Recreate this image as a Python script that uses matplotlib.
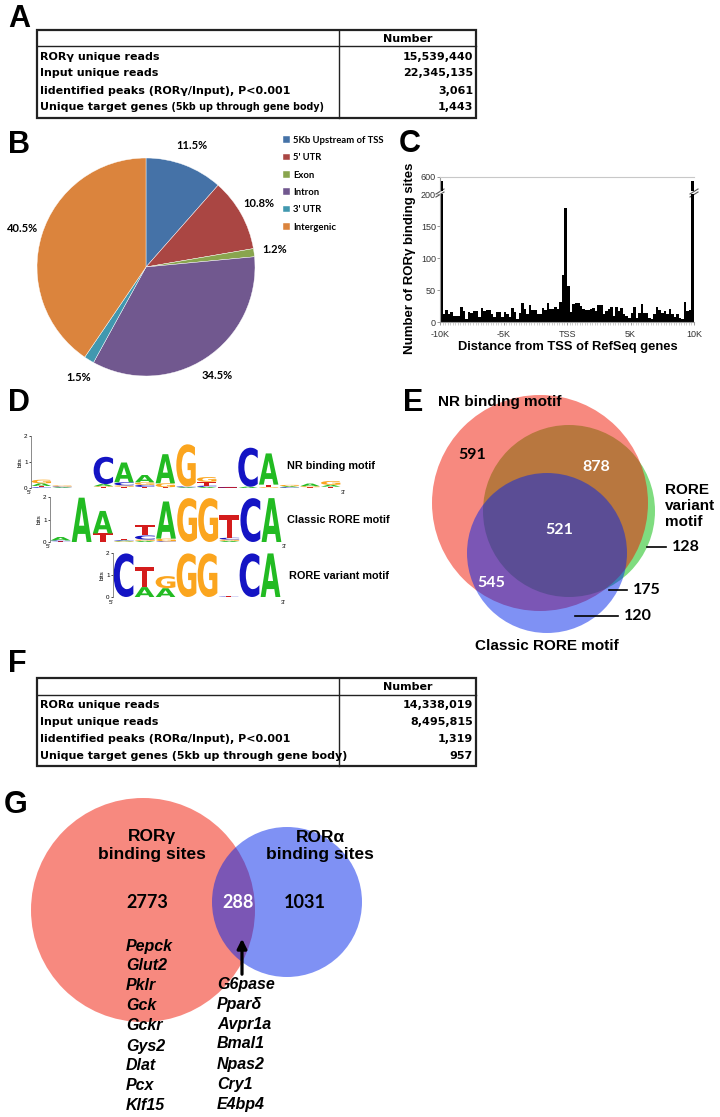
import numpy as np
import matplotlib
matplotlib.use('Agg')
import matplotlib.pyplot as plt
from matplotlib.patches import Circle, Rectangle, PathPatch
from matplotlib.textpath import TextPath
from matplotlib.font_manager import FontProperties
from matplotlib.transforms import Affine2D

plt.rcParams['font.family'] = ['Liberation Sans', 'DejaVu Sans']

W, H = 720, 1117

# ---------------- data ----------------
table_a_labels = ['RORγ unique reads', 'Input unique reads',
                  'Iidentified peaks (RORγ/Input), P<0.001', 'Unique target genes']
table_a_values = ['15,539,440', '22,345,135', '3,061', '1,443']
table_f_labels = ['RORα unique reads', 'Input unique reads',
                  'Iidentified peaks (RORα/Input), P<0.001',
                  'Unique target genes (5kb up through gene body)']
table_f_values = ['14,338,019', '8,495,815', '1,319', '957']

pie_labels = ['5Kb Upstream of TSS', "5' UTR", 'Exon', 'Intron', "3' UTR", 'Intergenic']
pie_values = [11.5, 10.8, 1.2, 34.5, 1.5, 40.5]
pie_colors = ['#4572a7', '#aa4643', '#89a54e', '#71588f', '#4198af', '#db843d']

tss_ticks = [-10000, -5000, 0, 5000, 10000]
tss_ticklabels = ['-10K', '-5K', 'TSS', '5K', '10K']
tss_counts = [575,
              13, 18, 13, 16, 10, 10, 10, 24, 17, 5,
              16, 14, 17, 17, 8, 22, 17, 18, 18, 13,
              8, 16, 16, 8, 16, 13, 8, 22, 16, 5,
              14, 29, 21, 13, 26, 19, 18, 13, 13, 22,
              19, 29, 21, 21, 24, 21, 31, 73,
              178,
              56, 15, 28, 30, 30, 25, 20, 18, 19, 21,
              22, 17, 27, 26, 13, 17, 20, 24, 10, 23,
              17, 22, 13, 10, 6, 14, 24, 6, 14, 28, 14,
              14, 6, 4, 12, 24, 18, 14, 17, 13, 20,
              13, 8, 13, 6, 5, 31, 17, 18,
              575]

# sequence logos: per position, (letter, bits) from bottom to top
nr_motif = [[('C', 0.03), ('T', 0.05), ('A', 0.1), ('G', 0.14)],
            [('A', 0.03), ('C', 0.03), ('G', 0.04)],
            [],
            [('T', 0.04), ('G', 0.03), ('A', 0.08), ('C', 1.05)],
            [('T', 0.05), ('G', 0.05), ('C', 0.12), ('A', 0.76)],
            [('T', 0.04), ('C', 0.08), ('G', 0.1), ('A', 0.28)],
            [('T', 0.03), ('G', 0.15), ('A', 1.12)],
            [('A', 0.03), ('C', 0.03), ('G', 1.62)],
            [('A', 0.04), ('C', 0.05), ('T', 0.15), ('G', 0.18)],
            [('T', 0.02), ('C', 0.02)],
            [('A', 0.05), ('C', 1.5)],
            [('G', 0.03), ('T', 0.1), ('A', 1.2)],
            [('C', 0.03), ('A', 0.04), ('G', 0.05)],
            [('T', 0.03), ('G', 0.04), ('A', 0.1)],
            [('T', 0.05), ('A', 0.07), ('G', 0.15)]]
classic_motif = [[('T', 0.03), ('C', 0.04), ('A', 0.15)],
                 [('A', 1.97)],
                 [('T', 0.38), ('A', 1.0)],
                 [('G', 0.03), ('A', 0.03), ('C', 0.03), ('T', 0.05)],
                 [('A', 0.05), ('G', 0.06), ('C', 0.18), ('T', 0.45)],
                 [('C', 0.03), ('G', 0.12), ('A', 1.65)],
                 [('G', 1.95)],
                 [('G', 1.95)],
                 [('A', 0.05), ('G', 0.06), ('C', 0.08), ('T', 1.0)],
                 [('C', 1.95)],
                 [('A', 1.95)]]
variant_motif = [[('C', 1.98)],
                 [('A', 0.45), ('T', 0.9)],
                 [('A', 0.4), ('G', 0.55)],
                 [('G', 1.98)],
                 [('G', 1.98)],
                 [('C', 0.02), ('T', 0.04)],
                 [('C', 1.98)],
                 [('A', 1.98)]]
motif_names = ['NR binding motif', 'Classic RORE motif', 'RORE variant motif']
logo_colors = {'A': '#22bb22', 'C': '#1414c4', 'G': '#fba51e', 'T': '#d41c1c'}

venn_e_sets = ['NR binding motif', 'RORE\nvariant\nmotif', 'Classic RORE motif']
venn_e_counts = ['591', '878', '521', '545', '128', '175', '120']

venn_g_sets = ['RORγ\nbinding sites', 'RORα\nbinding sites']
venn_g_counts = ['2773', '288', '1031']
rorg_genes = ['Pepck', 'Glut2', 'Pklr', 'Gck', 'Gckr', 'Gys2', 'Dlat', 'Pcx', 'Klf15']
shared_genes = ['G6pase', 'Pparδ', 'Avpr1a', 'Bmal1', 'Npas2', 'Cry1', 'E4bp4']

RED = (0.945, 0.08, 0.0)
GREEN = (0.0, 0.73, 0.0)
BLUE = (0.0, 0.14, 0.92)

fig = plt.figure(figsize=(7.2, 11.17), dpi=100)


def px_axes(x0, y0, w, h):
    return fig.add_axes([x0 / W, 1 - (y0 + h) / H, w / W, h / H])


ov = fig.add_axes([0, 0, 1, 1])
ov.set_xlim(0, W)
ov.set_ylim(H, 0)
ov.axis('off')

# panel letters
for letter, (lx, ly) in zip('ABCDEFG', [(19, 19), (19, 145), (410, 144), (19, 403),
                                         (413, 403), (17, 664), (16, 805)]):
    ov.text(lx, ly, letter, size=22, weight='bold', ha='center', va='center')


# ---------------- tables A and F ----------------
def draw_table(top, head, bottom, labels, values, small_suffix):
    x0, x1, xd = 37, 476, 339
    tf = dict(family='DejaVu Sans', weight='bold', size=8)
    ov.add_patch(Rectangle((x0, top), x1 - x0, bottom - top, fill=False, lw=1.6, ec='#222'))
    ov.plot([x0, x1], [head, head], color='#222', lw=1.0)
    ov.plot([xd, xd], [top, bottom], color='#222', lw=1.0)
    ov.text((xd + x1) / 2, (top + head) / 2 + 0.5, 'Number', ha='center', va='center', **tf)
    step = (bottom - head - 4) / len(labels)
    for i, (lab, val) in enumerate(zip(labels, values)):
        y = head + 2 + step * (i + 0.5)
        t = ov.text(x0 + 3, y, lab, ha='left', va='center', **tf)
        ov.text(x1 - 3, y, val, ha='right', va='center', **tf)
        if small_suffix and i == len(labels) - 1:
            ov.annotate(' (5kb up through gene body)', xy=(1, 0.5), xycoords=t,
                        ha='left', va='center', family='DejaVu Sans', size=6.9, weight='bold')


draw_table(30, 46, 118, table_a_labels, table_a_values, True)
draw_table(678, 695, 766, table_f_labels, table_f_values, False)

# ---------------- B: pie ----------------
axp = px_axes(37, 158, 218, 218)
wedges, texts = axp.pie(pie_values, colors=pie_colors, startangle=90, counterclock=False,
                        labels=[f'{v}%' for v in pie_values], labeldistance=1.19,
                        textprops=dict(family='Lato', weight='bold', size=8),
                        wedgeprops=dict(linewidth=0.3, edgecolor='white'))
for t in texts:
    t.set_ha('center')
    t.set_va('center')
axp.set_xlim(-1, 1)
axp.set_ylim(-1, 1)
axp.legend(wedges, pie_labels, loc='upper left', bbox_to_anchor=(283 / W, 1 - 136 / H),
           bbox_transform=fig.transFigure, frameon=False,
           prop=dict(family='Lato', weight='bold', size=6.8),
           handlelength=0.7, handleheight=0.7, handletextpad=0.4, labelspacing=0.88,
           borderaxespad=0, borderpad=0)

# ---------------- C: histogram with broken axis ----------------
edges = np.linspace(-10000, 10000, len(tss_counts) + 1)
ax_lo = px_axes(440, 194, 254, 128)
ax_hi = px_axes(440, 177, 254, 14)
for ax in (ax_lo, ax_hi):
    ax.bar(edges[:-1], tss_counts, width=np.diff(edges), align='edge', color='black', lw=0)
    ax.set_xlim(-10000, 10000)
    ax.set_facecolor('none')
    ax.spines['right'].set_visible(False)
    for s in ('left', 'bottom', 'top'):
        ax.spines[s].set_color('#9a9a9a')
        ax.spines[s].set_linewidth(0.8)
    ax.tick_params(axis='y', length=2, width=0.6, color='#888', labelsize=6.5,
                   labelcolor='#333', pad=1)
ax_lo.set_ylim(0, 200)
ax_lo.set_yticks([0, 50, 100, 150, 200])
ax_lo.spines['top'].set_visible(False)
ax_lo.set_xticks(tss_ticks)
ax_lo.set_xticklabels(tss_ticklabels)
ax_lo.set_xticks(edges, minor=True)
ax_lo.tick_params(axis='x', which='major', length=2.5, width=0.6, color='#888',
                  labelsize=6.5, labelcolor='#333', pad=3)
ax_lo.tick_params(axis='x', which='minor', length=1.8, width=0.4, color='#aaa')
ax_hi.set_ylim(520, 600)
ax_hi.set_yticks([600])
ax_hi.spines['bottom'].set_visible(False)
ax_hi.spines['top'].set_color('#c8c8c8')
ax_hi.set_xticks([])
for bx in (440, 694):
    for dy in (0, 3):
        ov.plot([bx - 4, bx + 4], [194 + dy, 189 + dy], color='#555', lw=0.8)
ov.text(410, 258, 'Number of RORγ binding sites', rotation=90, ha='center', va='center',
        size=9.5, weight='bold')
ov.text(568, 347, 'Distance from TSS of RefSeq genes', ha='center', va='center',
        size=9.3, weight='bold')

# ---------------- D: sequence logos ----------------
logo_font = FontProperties(family='DejaVu Sans', weight='bold')


def draw_logo(box, motif):
    ax = px_axes(*box)
    ax.set_xlim(0, len(motif))
    ax.set_ylim(0, 2)
    ax.set_facecolor('none')
    for i, column in enumerate(motif):
        base = 0
        for letter, h in column:
            tp = TextPath((0, 0), letter, size=1, prop=logo_font)
            bb = tp.get_extents()
            tr = Affine2D().translate(-bb.x0, -bb.y0).scale(0.94 / bb.width, h / bb.height)
            tr = tr.translate(i + 0.03, base)
            ax.add_patch(PathPatch(tr.transform_path(tp), fc=logo_colors[letter], ec='none'))
            base += h
    for s in ('top', 'right', 'bottom'):
        ax.spines[s].set_visible(False)
    ax.spines['left'].set_color('#777')
    ax.spines['left'].set_linewidth(0.6)
    ax.set_xticks([])
    ax.set_yticks([0, 1, 2])
    ax.tick_params(axis='y', length=1.5, width=0.5, labelsize=4.5, pad=1)
    ax.set_ylabel('bits', size=4.5, labelpad=1)
    x0, y0, w, h = box
    ov.text(x0 - 2, y0 + h + 5, "5'", size=4.5, ha='center', va='center')
    ov.text(x0 + w + 2, y0 + h + 5, "3'", size=4.5, ha='center', va='center')


draw_logo((31, 436, 310, 52), nr_motif)
draw_logo((50, 497, 232, 45), classic_motif)
draw_logo((113, 553, 168, 44), variant_motif)
for name, (tx, ty) in zip(motif_names, [(287, 466), (287, 520), (289, 576)]):
    ov.text(tx, ty, name, size=7.8, weight='bold', ha='left', va='center')

# ---------------- E: three-way Venn ----------------
ov.add_patch(Circle((569, 511), 86, fc=GREEN, alpha=0.5, lw=0, zorder=1))
ov.add_patch(Circle((540, 503), 108, fc=RED, alpha=0.5, lw=0, zorder=1))
ov.add_patch(Circle((547, 553), 80, fc=BLUE, alpha=0.5, lw=0, zorder=1))
ov.text(438, 402, venn_e_sets[0], size=11, weight='bold', ha='left', va='center', zorder=5)
ov.text(665, 506, venn_e_sets[1], size=11, weight='bold', ha='left', va='center',
        linespacing=1.2, zorder=5)
ov.text(547, 646, venn_e_sets[2], size=11, weight='bold', ha='center', va='center', zorder=5)
e_pos = [(472, 455, 'black'), (596, 467, 'white'), (559, 530, 'white'), (491, 583, 'white')]
for txt, (x, y, c) in zip(venn_e_counts[:4], e_pos):
    ov.text(x, y, txt, size=11.5, family='Lato', weight='bold', color=c,
            ha='center', va='center', zorder=5)
for txt, (lx0, lx1, y) in zip(venn_e_counts[4:], [(647, 666, 547), (609, 627, 590),
                                                   (575, 618, 616)]):
    ov.plot([lx0, lx1], [y, y], color='black', lw=1.2, zorder=5)
    ov.text(lx1 + 6, y, txt, size=11.5, family='Lato', weight='bold',
            ha='left', va='center', zorder=5)

# ---------------- G: two-way Venn ----------------
ov.add_patch(Circle((143, 910), 112, fc=RED, alpha=0.5, lw=0, zorder=1))
ov.add_patch(Circle((287, 902), 75, fc=BLUE, alpha=0.5, lw=0, zorder=1))
for txt, x in zip(venn_g_sets, [152, 320]):
    ov.text(x, 846, txt, size=12.5, weight='bold', ha='center', va='center',
            linespacing=1.25, zorder=5)
for txt, x, c in zip(venn_g_counts, [147, 238, 305], ['black', 'white', 'black']):
    ov.text(x, 903, txt, size=13, family='Lato', weight='bold', color=c,
            ha='center', va='center', zorder=5)
for i, g in enumerate(rorg_genes):
    ov.text(126, 946 + 20 * i, g, size=11.5, weight='bold', style='italic',
            ha='left', va='center', zorder=5)
for i, g in enumerate(shared_genes):
    ov.text(217, 984 + 20 * i, g, size=11.5, weight='bold', style='italic',
            ha='left', va='center', zorder=5)
ov.annotate('', xy=(242, 936), xytext=(242, 977),
            arrowprops=dict(arrowstyle='-|>', lw=2.3, color='black', mutation_scale=14),
            zorder=6)

fig.savefig('out.png', dpi=100)
